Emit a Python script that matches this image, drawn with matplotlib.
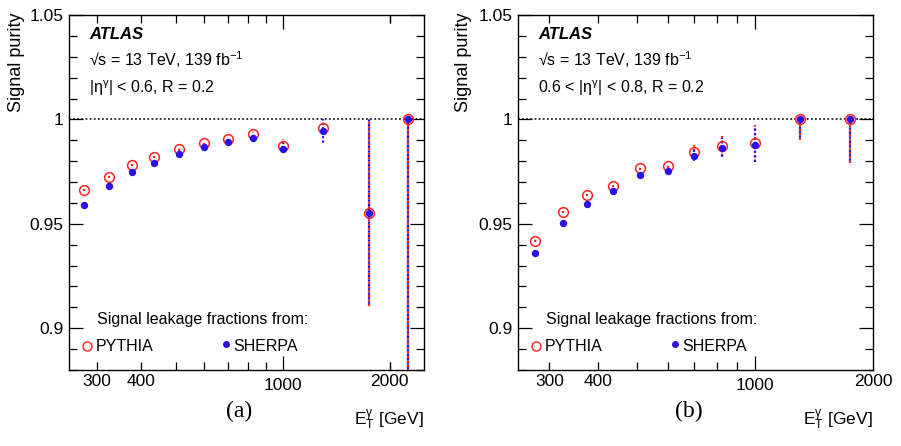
import matplotlib
matplotlib.use("Agg")
import matplotlib.pyplot as plt
from matplotlib.ticker import FixedLocator, NullFormatter, MultipleLocator, FixedFormatter

plt.rcParams['font.family'] = ['Liberation Sans', 'DejaVu Sans']
plt.rcParams['mathtext.fontset'] = 'custom'
plt.rcParams['mathtext.rm'] = 'Liberation Sans'
plt.rcParams['mathtext.it'] = 'Liberation Sans:italic'
plt.rcParams['mathtext.bf'] = 'Liberation Sans:bold'

# ---------------- data ----------------
et_a = [275, 325, 375, 435, 510, 600, 700, 825, 1000, 1300, 1750, 2250]
pythia_a = [0.966, 0.9725, 0.978, 0.982, 0.9856, 0.9885, 0.9904, 0.9928, 0.9872, 0.9958, 0.9553, 1.0]
sherpa_a = [0.9588, 0.9679, 0.9746, 0.9792, 0.9836, 0.9867, 0.9891, 0.9912, 0.9858, 0.9946, 0.9553, 1.0]
pythia_a_lo = [0.0005, 0.0005, 0.0005, 0.0005, 0.0005, 0.0006, 0.0008, 0.001, 0.0035, 0.003, 0.0447, 0.2]
pythia_a_hi = [0.0005, 0.0005, 0.0005, 0.0005, 0.0005, 0.0006, 0.0008, 0.001, 0.0035, 0.003, 0.0447, 0.0]
sherpa_a_lo = [0.0005, 0.0005, 0.0005, 0.0005, 0.0005, 0.0006, 0.0008, 0.001, 0.003, 0.0067, 0.0447, 0.2]
sherpa_a_hi = [0.0005, 0.0005, 0.0005, 0.0005, 0.0005, 0.0006, 0.0008, 0.001, 0.003, 0.0054, 0.0447, 0.0]

et_b = [275, 325, 375, 435, 510, 600, 700, 825, 1000, 1300, 1750]
pythia_b = [0.942, 0.9556, 0.9636, 0.9682, 0.9767, 0.9775, 0.9843, 0.9874, 0.9885, 1.0, 1.0]
sherpa_b = [0.9359, 0.9506, 0.9596, 0.9658, 0.9733, 0.9752, 0.9823, 0.9862, 0.9877, 1.0, 1.0]
pythia_b_lo = [0.0005, 0.0005, 0.0005, 0.0006, 0.0008, 0.001, 0.0035, 0.005, 0.009, 0.0097, 0.021]
pythia_b_hi = [0.0005, 0.0005, 0.0005, 0.0006, 0.0008, 0.001, 0.0035, 0.005, 0.009, 0.0, 0.0]
sherpa_b_lo = [0.0005, 0.0005, 0.0005, 0.0006, 0.0008, 0.001, 0.003, 0.005, 0.009, 0.0097, 0.021]
sherpa_b_hi = [0.0005, 0.0005, 0.0005, 0.0006, 0.0008, 0.001, 0.003, 0.005, 0.009, 0.0, 0.0]

xtick_vals = [300, 400, 1000, 2000]
xtick_labels = ['300', '400', '1000', '2000']
xminor_vals = [300, 400, 500, 600, 700, 800, 900, 2000]

RED = '#ff2222'
BLUE = '#2a10e6'

W, H = 901, 446
fig = plt.figure(figsize=(W / 100, H / 100), dpi=100)

def fx(px):
    return px / W

def fy(py):
    return 1 - py / H

panels = [
    dict(x0=69, x1=424, xlim=(250, 2500), et=et_a, py=pythia_a, sh=sherpa_a,
         pyl=pythia_a_lo, pyh=pythia_a_hi, shl=sherpa_a_lo, shh=sherpa_a_hi,
         eta=r'$\mathregular{|\eta^{\gamma}|}$ < 0.6, R = 0.2', tag='(a)', ylab_x=17),
    dict(x0=518.3, x1=873, xlim=(250, 2000), et=et_b, py=pythia_b, sh=sherpa_b,
         pyl=pythia_b_lo, pyh=pythia_b_hi, shl=sherpa_b_lo, shh=sherpa_b_hi,
         eta=r'0.6 < $\mathregular{|\eta^{\gamma}|}$ < 0.8, R = 0.2', tag='(b)', ylab_x=463),
]

top, bot = 15, 370
for p in panels:
    ax = fig.add_axes([fx(p['x0']), fy(bot), fx(p['x1'] - p['x0']), (bot - top) / H])
    ax.set_xscale('log')
    ax.set_xlim(*p['xlim'])
    ax.set_ylim(0.88, 1.05)

    ax.axhline(1.0, color='black', ls=(0, (1.2, 1.5)), lw=1.1, zorder=1)

    # error bars
    py_lo = [v - e for v, e in zip(p['py'], p['pyl'])]
    py_hi = [v + e for v, e in zip(p['py'], p['pyh'])]
    sh_lo = [v - e for v, e in zip(p['sh'], p['shl'])]
    sh_hi = [v + e for v, e in zip(p['sh'], p['shh'])]
    ax.vlines(p['et'], py_lo, py_hi, colors=RED, linestyles=[(0, (1.0, 1.0))], lw=1.6, zorder=2)
    ax.vlines(p['et'], sh_lo, sh_hi, colors=BLUE, linestyles=[(1.0, (1.0, 1.0))], lw=1.6, zorder=3)

    ax.plot(p['et'], p['py'], 'o', mfc='none', mec=RED, mew=1.1, ms=7.0, zorder=4, clip_on=False)
    ax.plot(p['et'], p['sh'], 'o', mfc=BLUE, mec=BLUE, ms=4.3, zorder=5, clip_on=False)

    # ticks
    ax.xaxis.set_major_locator(FixedLocator([1000]))
    ax.xaxis.set_minor_locator(FixedLocator([v for v in xminor_vals if p['xlim'][0] < v < p['xlim'][1]] + ([2000] if p['xlim'][1] > 2000 else [])))
    ax.xaxis.set_major_formatter(FixedFormatter(['1000']))
    ax.xaxis.set_minor_formatter(NullFormatter())
    ax.yaxis.set_major_locator(MultipleLocator(0.05))
    ax.yaxis.set_minor_locator(MultipleLocator(0.01))
    ax.yaxis.set_major_formatter(matplotlib.ticker.FuncFormatter(lambda v, pos: ('%g' % round(v, 3))))
    ax.tick_params(which='both', direction='in', top=True, right=True, width=0.9, labelsize=12.5)
    ax.tick_params(which='major', length=10, pad=4)
    ax.tick_params(which='minor', length=5.5)
    ax.tick_params(axis='x', which='major', pad=6)
    for s in ax.spines.values():
        s.set_linewidth(1.0)
    for v, lab in zip(xtick_vals, xtick_labels):
        if v != 1000 and p['xlim'][0] <= v <= p['xlim'][1]:
            ax.text(v, -0.012, lab, transform=ax.get_xaxis_transform(), ha='center', va='top', fontsize=12.5)

    # labels
    ax.text(0.056, 0.944, 'ATLAS', transform=ax.transAxes, fontsize=12, fontweight='bold',
            fontstyle='italic', va='center', ha='left')
    ax.text(0.056, 0.873, '\u221as = 13 TeV, 139 fb$\\mathregular{^{-1}}$',
            transform=ax.transAxes, fontsize=11.5, va='center', ha='left')
    ax.text(0.056, 0.794, p['eta'], transform=ax.transAxes, fontsize=11.5, va='center', ha='left')

    ax.text(0.079, 0.141, 'Signal leakage fractions from:', transform=ax.transAxes,
            fontsize=11.5, va='center', ha='left')
    ax.plot([0.051], [0.069], 'o', mfc='none', mec=RED, mew=1.0, ms=6.5, transform=ax.transAxes)
    ax.text(0.075, 0.066, 'PYTHIA', transform=ax.transAxes, fontsize=11.5, va='center', ha='left')
    ax.plot([0.442], [0.072], 'o', mfc=BLUE, mec=BLUE, ms=4.0, transform=ax.transAxes)
    ax.text(0.462, 0.066, 'SHERPA', transform=ax.transAxes, fontsize=11.5, va='center', ha='left')

    fig.text(fx(p['x1']), fy(420), r'$\mathregular{E_T^{\gamma}}$ [GeV]', ha='right', va='center', fontsize=12.5)
    fig.text(fx((p['x0'] + p['x1']) / 2 - 7), fy(411), p['tag'], ha='center', va='center',
             fontsize=17, family='Liberation Serif')
    fig.text(fx(p['ylab_x']), fy(13), 'Signal purity', rotation=90, ha='center', va='top', fontsize=13)

fig.savefig('out.png', dpi=100)
